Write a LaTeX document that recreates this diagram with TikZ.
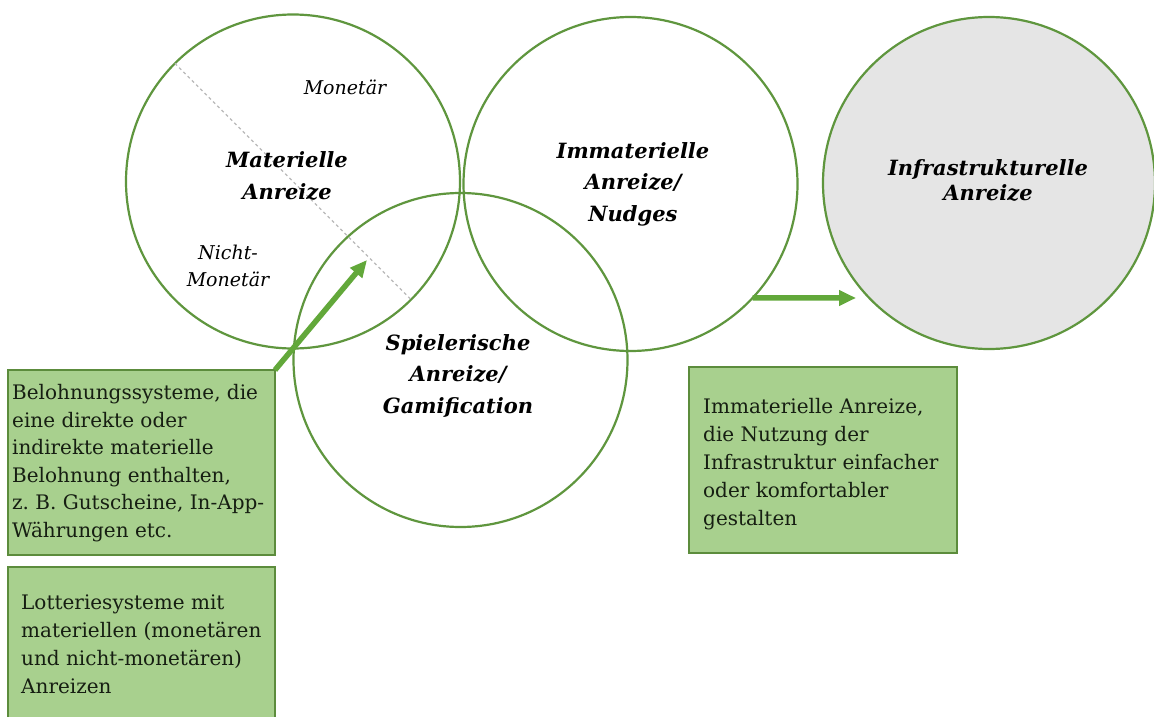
\documentclass[tikz,border=0pt]{standalone}
\usepackage{fontspec}
\setmainfont{DejaVu Serif}
\usetikzlibrary{arrows.meta}
\definecolor{circgreen}{RGB}{95,150,62}
\definecolor{arrowgreen}{RGB}{98,168,58}
\definecolor{boxfill}{RGB}{168,208,142}
\definecolor{boxline}{RGB}{92,140,60}
\definecolor{infragrey}{RGB}{229,229,229}
\definecolor{dashgrey}{RGB}{185,185,185}
\definecolor{boxtext}{RGB}{22,30,18}
\tikzset{
  circ/.style={circle, draw=circgreen, line width=2.2pt, minimum size=334pt, inner sep=0pt, outer sep=0pt},
  greenbox/.style={rectangle, draw=boxline, fill=boxfill, line width=2pt, anchor=north west, inner sep=0pt, outer sep=0pt},
  boxtxt/.style={font=\fontsize{20}{27.6}\selectfont, text=boxtext, align=left, anchor=north west, inner sep=0pt},
  bigtxt/.style={font=\fontsize{21}{31.5}\selectfont\bfseries\itshape, align=center, inner sep=0pt},
  smalltxt/.style={font=\fontsize{19}{27}\selectfont\itshape, align=center, inner sep=0pt},
  fatarrow/.style={draw=arrowgreen, line width=5.5pt, -{Triangle[length=17pt,width=15pt]}},
  splitline/.style={draw=dashgrey, line width=1.2pt, dash pattern=on 3pt off 3pt}
}
\begin{document}
\begin{tikzpicture}[x=1pt,y=-1pt]
\useasboundingbox (0,0) rectangle (1154,717);
\clip (0,0) rectangle (1154,717);
\fill[white] (0,0) rectangle (1154,717);

% circles
\node[circ] (mat) at (293,181.5) {};
\node[circ] (imm) at (630.5,184) {};
\node[circ] (spiel) at (460.5,360) {};
\node[circ, fill=infragrey, minimum size=332pt] (infra) at (989,183) {};

% dashed split line of the material circle
\draw[splitline] (mat.135) -- (mat.-45);

% circle labels
\node[bigtxt] (tmat) at (287,176) {Materielle\\Anreize};
\node[bigtxt] (timm) at (633,184) {Immaterielle\\Anreize/\\Nudges};
\node[bigtxt] (tspiel) at (458,376) {Spielerische\\Anreize/\\Gamification};
\node[bigtxt, font=\fontsize{21}{25}\selectfont\bfseries\itshape] (tinfra) at (988,180) {Infrastrukturelle\\Anreize};
\node[smalltxt, anchor=base] (tmon) at (345,94) {Monetär};
\node[smalltxt] (tnmon) at (228,266) {Nicht-\\Monetär};

% boxes
\node[greenbox, minimum width=267pt, minimum height=185pt] (box1) at (8,370) {};
\node[greenbox, minimum width=267pt, minimum height=165pt] (box2) at (8,567) {};
\node[greenbox, minimum width=268pt, minimum height=186pt] (box3) at (689,367) {};

\node[boxtxt] (tb1) at (12,384) {Belohnungssysteme, die\\ eine direkte oder\\ indirekte materielle\\ Belohnung enthalten,\\ z.~B. Gutscheine, In-App-\\ Währungen etc.};
\node[boxtxt, font=\fontsize{20}{28}\selectfont] (tb2) at (21,595) {Lotteriesysteme mit\\ materiellen (monetären\\ und nicht-monetären)\\ Anreizen};
\node[boxtxt, font=\fontsize{20}{28}\selectfont] (tb3) at (703,398) {Immaterielle Anreize,\\ die Nutzung der\\ Infrastruktur einfacher\\ oder komfortabler\\ gestalten};

% arrows
\coordinate (a1end) at (367,260);
\coordinate (a2end) at (856,298);
\draw[fatarrow] (box1.north east) -- (a1end);
\draw[fatarrow] (imm.-43) -- (a2end);
\end{tikzpicture}
\end{document}
